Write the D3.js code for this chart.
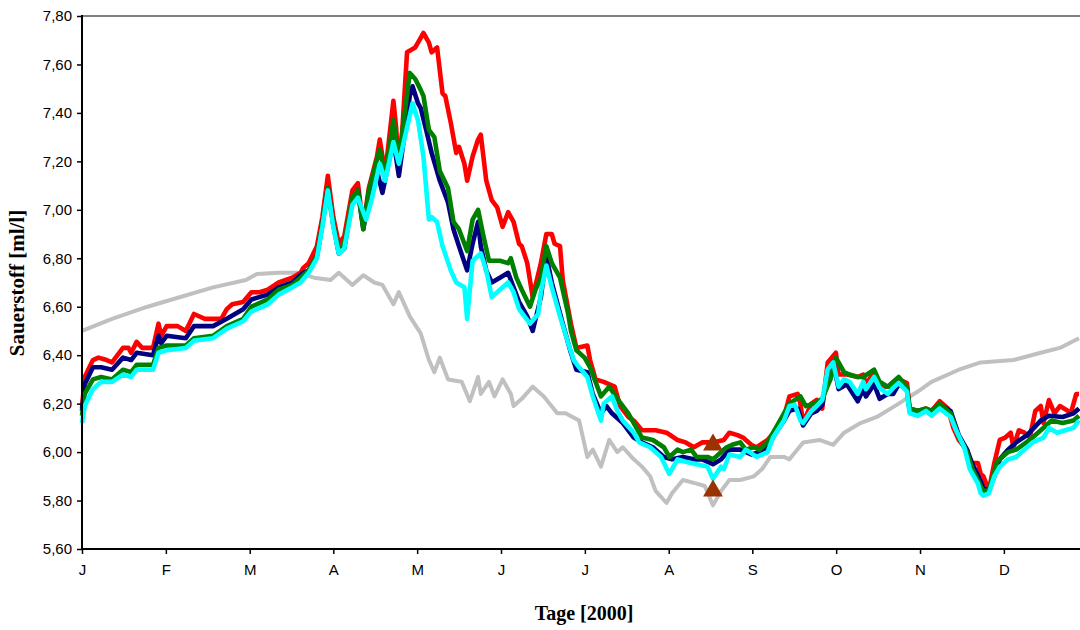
<!DOCTYPE html>
<html><head><meta charset="utf-8">
<script src="https://cdn.jsdelivr.net/npm/d3@7/dist/d3.min.js"></script>
<style>body{margin:0;background:#fff}svg{display:block}</style>
</head><body>
<svg id="chart" width="1080" height="630"></svg>
<script>
// ---- data ----
const monthLabels = ["J","F","M","A","M","J","J","A","S","O","N","D"];
const monthTickDays = [0,30.7,61.4,92.0,122.7,153.4,184.1,214.8,245.4,276.1,306.8,337.5];
const yTickValues = [5.6,5.8,6.0,6.2,6.4,6.6,6.8,7.0,7.2,7.4,7.6,7.8];

const grayDays = [0,11,24,36,48,60,64,72,79,85,91,94,99,103,107,110,114,116,120,124,127,129,131,134,139,142,145,146,149,151,154,157,158,161,165,169,174,177,182,185,187,190,193,196,198,202,205,208,210,214,216,220,225,228,231,234,237,241,246,249,252,257,259,264,270,275,279,285,291,299,306,311,321,329,341,351,358,365];
const grayVals = [6.50,6.55,6.60,6.64,6.68,6.71,6.735,6.74,6.74,6.72,6.71,6.74,6.69,6.73,6.70,6.69,6.61,6.66,6.56,6.49,6.38,6.33,6.39,6.30,6.29,6.21,6.31,6.24,6.29,6.23,6.30,6.24,6.19,6.22,6.27,6.23,6.16,6.16,6.13,5.98,6.01,5.94,6.05,6.00,6.02,5.97,5.94,5.90,5.84,5.79,5.83,5.885,5.87,5.86,5.78,5.84,5.885,5.885,5.90,5.93,5.98,5.98,5.97,6.04,6.05,6.03,6.08,6.12,6.145,6.20,6.25,6.29,6.34,6.37,6.38,6.41,6.43,6.47];

const redDays = [0,1,4,6,9,11,15,17,18,20,22,26,28,29,31,35,38,41,45,48,51,53,55,59,62,65,68,72,77,80,81,83,86,88,90,92,94,96,99,101,103,105,108,109,111,114,115,116,117,119,122,124,125,127,128,130,132,133,135,137,138,140,141,143,145,146,148,150,152,154,156,158,160,161,163,165,168,170,172,173,175,176,179,181,185,186,188,191,195,197,200,202,205,210,214,218,221,224,227,231,235,237,240,242,245,247,251,254,257,259,262,263,264,267,269,271,273,276,277,280,284,286,287,290,291,293,297,299,302,303,306,309,311,314,317,319,321,324,325,328,329,330,332,333,334,336,338,340,341,343,345,347,349,351,352,354,356,358,361,362,364,365];
const redVals = [6.18,6.31,6.38,6.39,6.38,6.37,6.43,6.43,6.41,6.455,6.43,6.43,6.53,6.48,6.52,6.52,6.50,6.57,6.55,6.55,6.55,6.59,6.61,6.62,6.66,6.66,6.67,6.70,6.72,6.74,6.76,6.78,6.85,6.97,7.14,6.97,6.86,6.89,7.08,7.11,6.93,7.09,7.22,7.29,7.15,7.45,7.34,7.16,7.28,7.65,7.67,7.71,7.73,7.69,7.65,7.67,7.48,7.47,7.36,7.235,7.26,7.19,7.12,7.22,7.29,7.31,7.12,7.04,7.01,6.93,6.99,6.95,6.86,6.85,6.78,6.64,6.78,6.90,6.90,6.86,6.85,6.71,6.53,6.43,6.44,6.38,6.30,6.29,6.27,6.19,6.145,6.13,6.09,6.09,6.08,6.05,6.04,6.02,6.04,6.04,6.05,6.08,6.07,6.06,6.03,6.02,6.05,6.09,6.145,6.23,6.24,6.20,6.12,6.20,6.215,6.18,6.37,6.41,6.32,6.32,6.31,6.32,6.28,6.33,6.30,6.27,6.27,6.30,6.285,6.18,6.17,6.18,6.17,6.21,6.18,6.10,6.05,6.01,5.955,5.955,5.91,5.90,5.84,5.90,5.955,6.05,6.06,6.08,6.02,6.09,6.08,6.06,6.17,6.19,6.12,6.215,6.16,6.19,6.17,6.16,6.24,6.24];

const navyDays = [0,1,4,7,11,15,18,20,26,28,29,31,38,41,48,53,59,62,68,72,77,81,83,86,88,90,92,94,96,99,101,103,105,108,110,114,116,120,121,123,124,126,128,131,134,136,138,141,143,145,146,148,150,153,156,158,160,163,165,168,170,172,176,179,181,185,187,190,192,194,198,202,205,209,213,216,220,224,227,231,234,237,241,245,248,251,254,257,259,262,264,267,269,271,273,275,277,280,284,286,287,290,292,295,297,299,302,303,306,309,311,314,318,321,324,326,329,330,332,334,336,339,342,346,351,354,359,363,365];
const navyVals = [6.17,6.28,6.35,6.35,6.34,6.39,6.38,6.41,6.40,6.48,6.45,6.48,6.47,6.52,6.52,6.55,6.59,6.63,6.65,6.68,6.70,6.74,6.75,6.81,6.94,7.09,6.94,6.82,6.84,7.04,7.08,6.92,7.07,7.16,7.07,7.29,7.14,7.47,7.51,7.44,7.42,7.33,7.235,7.12,7.03,6.92,6.85,6.75,6.86,6.95,6.85,6.75,6.70,6.72,6.74,6.68,6.62,6.56,6.50,6.64,6.81,6.70,6.53,6.41,6.34,6.33,6.24,6.16,6.19,6.16,6.12,6.06,6.04,6.02,5.98,5.97,5.98,5.97,5.97,5.95,5.97,6.01,6.01,5.99,6.00,6.02,6.08,6.13,6.17,6.18,6.11,6.16,6.17,6.195,6.33,6.37,6.26,6.28,6.21,6.26,6.23,6.28,6.22,6.24,6.24,6.28,6.26,6.17,6.17,6.17,6.17,6.195,6.17,6.07,6.01,5.95,5.88,5.85,5.84,5.90,5.97,6.01,6.04,6.07,6.13,6.15,6.145,6.16,6.18];

const greenDays = [0,1,4,7,11,15,18,20,26,28,31,38,41,48,53,59,62,68,72,77,81,83,86,88,90,92,94,96,99,101,103,105,109,111,114,116,120,122,124,125,127,129,131,134,136,138,141,143,145,147,149,153,156,157,159,161,164,166,168,170,172,175,178,179,181,184,186,189,190,193,196,200,202,205,209,213,215,218,220,223,225,229,231,234,236,238,241,243,246,248,251,254,257,259,263,265,268,271,274,276,279,281,284,286,290,292,295,297,299,302,303,306,309,311,314,318,321,324,326,329,330,332,335,339,342,347,351,355,359,363,365];
const greenVals = [6.15,6.24,6.30,6.31,6.30,6.34,6.33,6.36,6.36,6.43,6.44,6.44,6.47,6.48,6.52,6.55,6.60,6.63,6.67,6.69,6.73,6.75,6.81,6.94,7.09,6.94,6.83,6.86,7.05,7.08,6.92,7.08,7.25,7.14,7.37,7.21,7.565,7.54,7.495,7.47,7.33,7.30,7.16,7.09,6.95,6.92,6.83,6.96,7.00,6.89,6.79,6.79,6.78,6.80,6.72,6.67,6.60,6.67,6.72,6.85,6.78,6.72,6.57,6.50,6.42,6.39,6.35,6.26,6.23,6.27,6.22,6.16,6.12,6.06,6.05,6.02,5.98,6.01,6.00,6.01,5.98,5.98,5.97,6.00,6.02,6.03,6.04,6.01,6.02,6.01,6.04,6.10,6.16,6.20,6.23,6.19,6.20,6.22,6.30,6.39,6.33,6.32,6.31,6.31,6.34,6.29,6.27,6.29,6.31,6.27,6.18,6.17,6.18,6.17,6.20,6.16,6.06,6.00,5.93,5.86,5.84,5.84,5.96,6.00,6.01,6.05,6.09,6.13,6.12,6.13,6.15];

const cyanDays = [0,1,4,7,11,15,18,20,26,28,31,38,41,48,53,59,62,68,72,77,80,83,86,88,90,92,94,96,99,101,104,106,109,111,114,116,121,123,125,127,128,130,132,135,137,140,141,143,146,148,150,153,156,158,160,164,167,168,170,172,175,178,180,182,185,187,190,191,194,196,198,202,204,208,212,215,218,221,225,229,231,234,235,237,241,243,247,251,253,257,259,261,263,264,267,269,271,273,275,277,279,281,284,286,287,290,292,295,297,299,302,303,306,309,311,314,318,320,323,325,328,329,330,332,334,336,339,342,344,348,352,354,357,360,363,365];
const cyanVals = [6.12,6.19,6.26,6.29,6.29,6.32,6.31,6.34,6.34,6.41,6.42,6.43,6.46,6.47,6.51,6.54,6.58,6.61,6.65,6.68,6.70,6.74,6.80,6.93,7.08,6.93,6.82,6.84,7.02,7.05,6.96,7.04,7.19,7.12,7.28,7.19,7.44,7.37,7.22,6.96,6.97,6.95,6.85,6.75,6.70,6.68,6.55,6.79,6.82,6.75,6.64,6.67,6.70,6.66,6.59,6.53,6.57,6.66,6.77,6.68,6.56,6.45,6.38,6.35,6.31,6.23,6.13,6.20,6.23,6.17,6.13,6.08,6.04,6.02,5.98,5.91,5.97,5.96,5.95,5.94,5.89,5.94,5.93,5.99,5.98,6.01,5.98,6.00,6.06,6.13,6.19,6.195,6.13,6.12,6.17,6.19,6.215,6.34,6.37,6.27,6.30,6.29,6.24,6.29,6.26,6.31,6.265,6.24,6.265,6.285,6.25,6.16,6.15,6.17,6.15,6.18,6.145,6.09,6.02,5.93,5.87,5.83,5.82,5.83,5.90,5.94,5.97,5.98,6.00,6.04,6.06,6.10,6.08,6.09,6.10,6.13];

const markerDays = [231,231];
const markerVals = [6.03,5.84];

// ---- drawing ----
const svg = d3.select("#chart");
const plotLeft = 82, plotRight = 1079, plotTop = 16, plotBottom = 549;
const x = d3.scaleLinear().domain([0,365]).range([plotLeft,plotRight]);
const y = d3.scaleLinear().domain([5.6,7.8]).range([plotBottom,plotTop]);

svg.append("line").attr("x1",plotLeft).attr("x2",1080).attr("y1",plotTop).attr("y2",plotTop)
  .attr("stroke","#808080").attr("stroke-width",2);

const zip = (ds,vs)=>ds.map((d,i)=>[d,vs[i]]);
const line = d3.line().x(d=>x(d[0])).y(d=>y(d[1]));

const series = [
  {days:grayDays, vals:grayVals, color:"#C0C0C0", w:4},
  {days:redDays, vals:redVals, color:"#FF0000", w:4.6},
  {days:navyDays, vals:navyVals, color:"#000080", w:4.6},
  {days:greenDays, vals:greenVals, color:"#008000", w:4.6},
  {days:cyanDays, vals:cyanVals, color:"#00FFFF", w:4.6}
];
const g = svg.append("g");
series.forEach(s=>{
  g.append("path").datum(zip(s.days,s.vals)).attr("d",line)
    .attr("fill","none").attr("stroke",s.color).attr("stroke-width",s.w)
    .attr("stroke-linejoin","round").attr("stroke-linecap","butt");
});

svg.selectAll(".mk").data(zip(markerDays,markerVals)).enter().append("path")
  .attr("class","mk")
  .attr("transform",d=>`translate(${x(d[0])},${y(d[1])})`)
  .attr("d",d3.symbol().type(d3.symbolTriangle).size(170))
  .attr("fill","#993300");

const fmt = d=>d3.format(".2f")(d).replace(".",",");
const yAxis = svg.append("g").attr("transform",`translate(${plotLeft},0)`)
  .call(d3.axisLeft(y).tickValues(yTickValues).tickFormat(fmt).tickSize(5).tickPadding(5));
yAxis.select(".domain").remove();
yAxis.selectAll("text").attr("font-family","'Liberation Sans', Arial, sans-serif").attr("font-size",15).attr("fill","#000");
yAxis.selectAll("line").attr("stroke","#000").attr("stroke-width",1.5);

const xAxis = svg.append("g").attr("transform",`translate(0,${plotBottom})`)
  .call(d3.axisBottom(x).tickValues(monthTickDays).tickFormat((d,i)=>monthLabels[i]).tickSize(5).tickPadding(10));
xAxis.select(".domain").remove();
xAxis.selectAll("text").attr("font-family","'Liberation Sans', Arial, sans-serif").attr("font-size",15).attr("fill","#000");
xAxis.selectAll("line").attr("stroke","#000").attr("stroke-width",1.5);

svg.append("line").attr("x1",plotLeft).attr("x2",plotLeft).attr("y1",plotTop-1).attr("y2",plotBottom+1)
  .attr("stroke","#000").attr("stroke-width",2);
svg.append("line").attr("x1",plotLeft).attr("x2",1080).attr("y1",plotBottom).attr("y2",plotBottom)
  .attr("stroke","#000").attr("stroke-width",2);

svg.append("text").attr("x",584).attr("y",620).attr("text-anchor","middle")
  .attr("font-family","'Liberation Serif','Times New Roman',serif").attr("font-weight","bold")
  .attr("font-size",20).text("Tage [2000]");
svg.append("text").attr("transform","translate(24,283) rotate(-90)").attr("text-anchor","middle")
  .attr("font-family","'Liberation Serif','Times New Roman',serif").attr("font-weight","bold")
  .attr("font-size",21).text("Sauerstoff [ml/l]");
</script>
</body></html>
